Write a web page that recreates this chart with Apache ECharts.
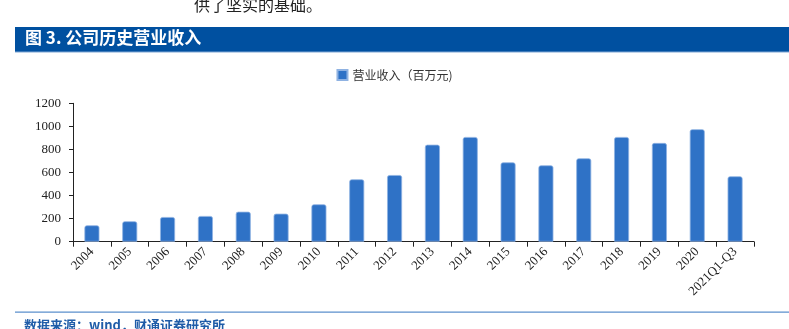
<!DOCTYPE html>
<html>
<head>
<meta charset="utf-8">
<script src="https://cdn.jsdelivr.net/npm/echarts@6/dist/echarts.min.js"></script>
<style>
  html, body { margin: 0; padding: 0; background: #fff; }
  #chart { width: 789px; height: 329px; }
</style>
</head>
<body>
<div id="chart"></div>
<script>
// Annual operating revenue (million CNY)
const categories = ['2004', '2005', '2006', '2007', '2008', '2009', '2010', '2011', '2012',
  '2013', '2014', '2015', '2016', '2017', '2018', '2019', '2020', '2021Q1-Q3'];
const revenue = [142, 177, 214, 223, 260, 243, 324, 541, 578,
  841, 908, 688, 662, 723, 908, 856, 975, 567];
const seriesName = '营业收入（百万元)';
const yTicks = { min: 0, max: 1200, interval: 200 };

const chart = echarts.init(document.getElementById('chart'), null, { renderer: 'canvas' });

const serif = '"Liberation Serif", "DejaVu Serif", serif';
const cjk = '"Noto Sans CJK SC", "Noto Sans", sans-serif';

chart.setOption({
  animation: false,
  backgroundColor: '#ffffff',
  graphic: [
    { type: 'text', left: 194, top: -3,
      style: { text: '供了坚实的基础。', fill: '#222', font: '16px ' + cjk } },
    { type: 'rect', shape: { x: 15, y: 27, width: 774, height: 25 },
      style: { fill: '#0050a0' } },
    { type: 'rect', shape: { x: 15, y: 51.5, width: 774, height: 1 },
      style: { fill: '#7fa6d3' } },
    { type: 'text', left: 25, top: 29,
      style: { text: '图 3. 公司历史营业收入', fill: '#ffffff', font: 'bold 17px ' + cjk } },
    { type: 'rect', shape: { x: 15, y: 311.5, width: 774, height: 1.2 },
      style: { fill: '#5b8fcc' } },
    { type: 'text', left: 24, top: 319,
      style: { text: '数据来源：wind，财通证券研究所', fill: '#1f5ca8', font: 'bold 13px ' + cjk } }
  ],
  legend: {
    top: 64,
    left: 'center',
    itemWidth: 10,
    itemHeight: 10,
    itemGap: 2,
    icon: 'rect',
    textStyle: { fontFamily: cjk, fontSize: 12, color: '#333' },
    data: [seriesName]
  },
  grid: { left: 73, right: 35, top: 103.3, bottom: 87.3, containLabel: false },
  xAxis: {
    type: 'category',
    data: categories,
    boundaryGap: true,
    axisLine: { lineStyle: { color: '#222', width: 1 } },
    axisTick: { show: true, inside: false, length: 5, lineStyle: { color: '#222' } },
    axisLabel: {
      rotate: 45,
      interval: 0,
      margin: 8,
      fontFamily: serif,
      fontSize: 13,
      color: '#222'
    }
  },
  yAxis: {
    type: 'value',
    min: yTicks.min,
    max: yTicks.max,
    interval: yTicks.interval,
    splitLine: { show: false },
    axisLine: { show: true, lineStyle: { color: '#222', width: 1 } },
    axisTick: { show: true, length: 4, lineStyle: { color: '#222' } },
    axisLabel: {
      fontFamily: serif, fontSize: 13, color: '#222', margin: 12,
      formatter: (v) => String(v)
    }
  },
  series: [{
    name: seriesName,
    type: 'bar',
    data: revenue,
    barWidth: 15,
    itemStyle: {
      color: '#2f72c6',
      borderColor: '#8fb2e2',
      borderWidth: 0.8,
      borderRadius: [2, 2, 0, 0]
    }
  }]
});
</script>
</body>
</html>
